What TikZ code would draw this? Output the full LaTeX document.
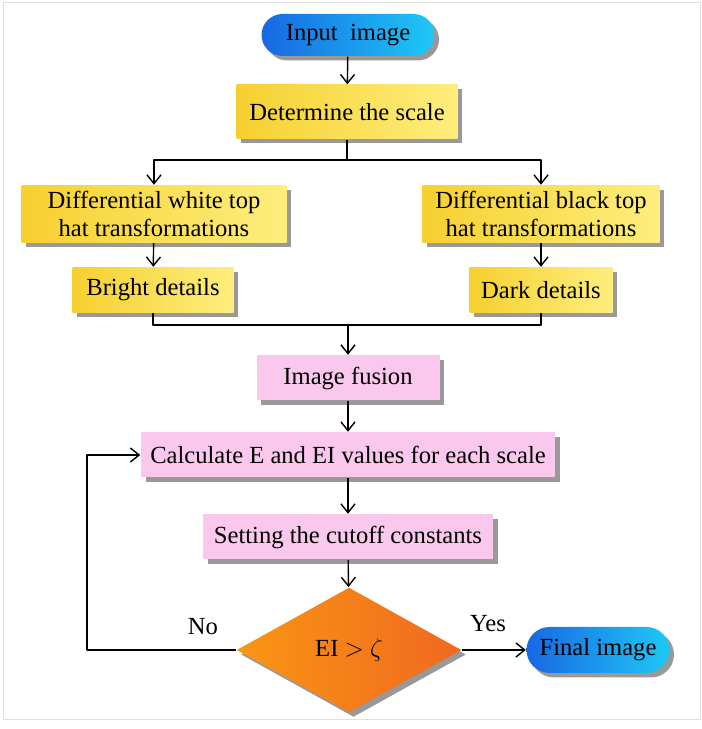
\documentclass[tikz,border=0pt]{standalone}
\usepackage{fontspec}
\setmainfont{Liberation Serif}
\usetikzlibrary{arrows.meta,shapes.geometric,shapes.misc,shadows}
\definecolor{gold}{RGB}{246,208,48}
\definecolor{lightgold}{RGB}{254,238,125}
\definecolor{rose}{RGB}{250,200,236}
\definecolor{deepblue}{RGB}{24,104,226}
\definecolor{skyblue}{RGB}{30,200,246}
\definecolor{amber}{RGB}{250,150,20}
\definecolor{rust}{RGB}{240,104,32}
\begin{document}
\begin{tikzpicture}[>={Straight Barb[length=5pt,width=8pt]},line join=round,thick,
	font=\fontsize{14}{16}\selectfont,
	shad/.style={drop shadow={shadow xshift=0.09cm,shadow yshift=-0.09cm,fill=black!40,opacity=1}},
	ybox/.style={shad,left color=gold,right color=lightgold,inner sep=2pt,align=center},
	pbox/.style={shad,fill=rose,inner sep=2pt,align=center,minimum height=0.9cm},
	pill/.style={shad,rounded rectangle,left color=deepblue,right color=skyblue,inner sep=2pt},
	dec/.style={shad,diamond,left color=amber,right color=rust,inner sep=0pt,minimum width=4.5cm,minimum height=2.5cm}]
	\useasboundingbox (0,0) rectangle (14.04,14.58);
	\draw[black!12,thin] (0.06,0.2) rectangle (14,14.54);
	% nodes
	\node[pill,minimum width=3.6cm,minimum height=0.84cm] (input) at (6.96,13.88) {Input\ \ image};
	\node[ybox,minimum width=4.42cm,minimum height=1.08cm] (scale) at (6.94,12.34) {Determine the scale};
	\node[ybox,minimum width=5.3cm,minimum height=1.14cm] (white) at (3.08,10.30) {Differential white top\\hat transformations};
	\node[ybox,minimum width=4.74cm,minimum height=1.14cm] (black) at (10.82,10.30) {Differential black top\\hat transformations};
	\node[ybox,minimum width=3.22cm,minimum height=0.9cm] (bright) at (3.06,8.78) {Bright details};
	\node[ybox,minimum width=2.86cm,minimum height=0.9cm] (dark) at (10.82,8.78) {Dark details};
	\node[pbox,minimum width=3.66cm] (fusion) at (6.96,7.02) {Image fusion};
	\node[pbox,minimum width=8.28cm] (calc) at (6.96,5.48) {Calculate E and EI values for each scale};
	\node[pbox,minimum width=5.8cm] (cutoff) at (6.96,3.84) {Setting the cutoff constants};
	\node[dec] (test) at (6.98,1.58) {EI $>$ $\zeta$};
	\node[pill,minimum width=3cm,minimum height=0.92cm] (final) at (11.96,1.58) {Final image};
	\coordinate (split) at (6.94,11.38);
	\coordinate (merge) at (6.96,8.08);
	% connectors
	\draw[->] (input)--(scale);
	\draw (scale)--(split);
	\draw[->] (split)-|(white);
	\draw[->] (split)-|(black);
	\draw[->] (white)--(bright);
	\draw[->] (black)--(dark);
	\draw (bright.south)|-(merge);
	\draw (dark.south)|-(merge);
	\draw[->] (merge)--(fusion);
	\draw[->] (fusion)--(calc);
	\draw[->] (calc)--(cutoff);
	\draw[->] (cutoff)--(test);
	\draw[->] (test.west)--++(-2.98,0)|-(calc.west);
	\draw[->] (test)--(final);
	\node (no) at (4.06,2.04) {No};
	\node (yes) at (9.76,2.1) {Yes};
\end{tikzpicture}
\end{document}
